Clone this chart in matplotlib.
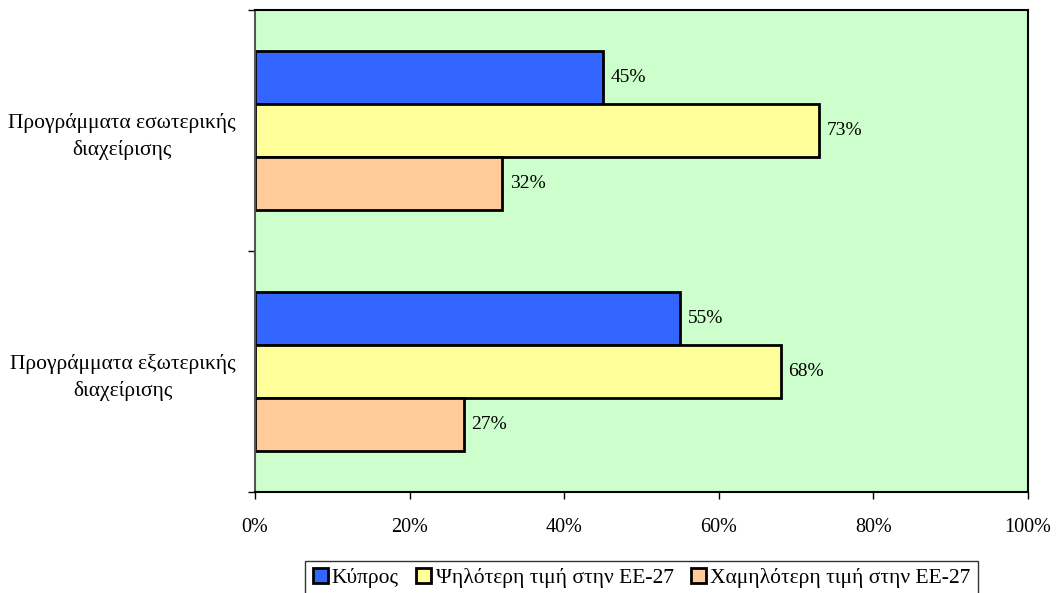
import matplotlib.pyplot as plt
import numpy as np
from matplotlib.ticker import FixedLocator, PercentFormatter

plt.rcParams['font.family'] = ['Liberation Serif', 'DejaVu Serif']

categories = ['Προγράμματα εσωτερικής\nδιαχείρισης', 'Προγράμματα εξωτερικής\nδιαχείρισης']
series_names = ['Κύπρος', 'Ψηλότερη τιμή στην ΕΕ-27', 'Χαμηλότερη τιμή στην ΕΕ-27']
cyprus = [45, 55]
highest = [73, 68]
lowest = [32, 27]

colors = ['#3366FF', '#FFFF99', '#FFCC99']

fig = plt.figure(figsize=(10.56, 5.93), dpi=100)
ax = fig.add_axes([255 / 1056, 1 - 492 / 593, (1028 - 255) / 1056, (492 - 10) / 593])
ax.set_facecolor('#CCFFCC')

y = np.arange(len(categories))
h = 0.22
for i, (vals, name, col) in enumerate(zip([cyprus, highest, lowest], series_names, colors)):
    pos = y + (i - 1) * h
    bars = ax.barh(pos, vals, height=h, color=col, edgecolor='black', linewidth=2, label=name)
    for b, v in zip(bars, vals):
        ax.text(v + 1.0, b.get_y() + b.get_height() / 2, f'{v}%', va='center', ha='left', fontsize=14)

ax.set_xlim(0, 100)
ax.set_ylim(len(categories) - 0.5, -0.5)
ax.xaxis.set_major_locator(FixedLocator([0, 20, 40, 60, 80, 100]))
ax.xaxis.set_major_formatter(PercentFormatter(decimals=0))
ax.set_yticks([-0.5, 0.5, 1.5])
ax.set_yticklabels([])
ax.set_yticks(y, minor=True)
ax.set_yticklabels(categories, minor=True, multialignment='center', fontsize=15.5, linespacing=1.45)
ax.tick_params(axis='y', which='minor', length=0, pad=14)
ax.tick_params(axis='y', which='major', length=5, direction='out', width=1)
ax.tick_params(axis='x', length=5, direction='out', width=1, labelsize=14.5, pad=14)

for s in ax.spines.values():
    s.set_linewidth(1.5)
    s.set_color('black')
ax.spines['left'].set_color('#555555')

leg = ax.legend(loc='upper center', bbox_to_anchor=(0.5, -0.138), ncol=3, frameon=True,
                fancybox=False, edgecolor='black', fontsize=15.5, handlelength=0.7,
                handleheight=0.7, handletextpad=0.2, columnspacing=0.8, borderpad=0.35)
leg.get_frame().set_linewidth(1)
for p in leg.get_patches():
    p.set_linewidth(2)
leg.set_bbox_to_anchor((0.5, -0.12), transform=ax.transAxes)

fig.savefig('out.png', dpi=100)
